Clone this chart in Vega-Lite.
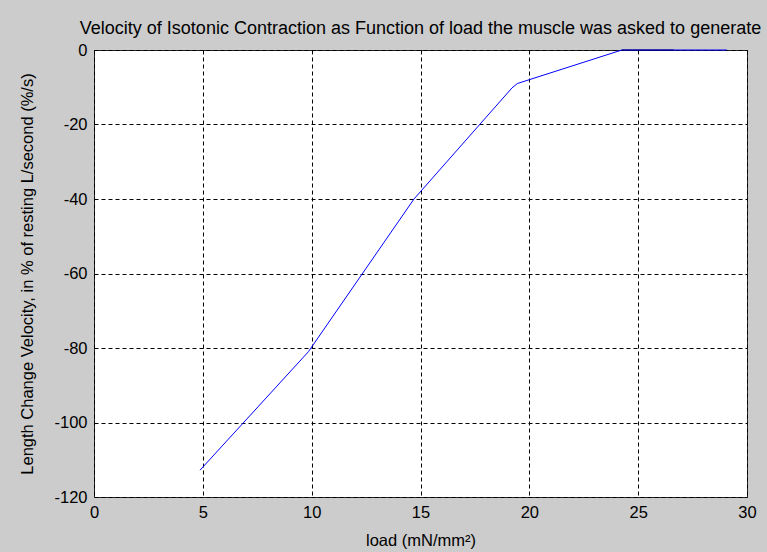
{
  "$schema": "https://vega.github.io/schema/vega-lite/v6.json",
  "width": 653,
  "height": 447,
  "autosize": {"type": "none"},
  "padding": {"left": 94, "top": 50, "right": 20, "bottom": 55},
  "background": "#cccccc",
  "title": {
    "text": "Velocity of Isotonic Contraction as Function of load the muscle was asked to generate",
    "font": "Liberation Sans Narrow, Arial Narrow, Liberation Sans",
    "fontSize": 18,
    "fontWeight": "normal",
    "color": "#000000",
    "anchor": "middle",
    "offset": 4
  },
  "config": {
    "view": {"fill": "#ffffff", "stroke": "#262626", "strokeWidth": 1},
    "axis": {
      "labelFont": "Liberation Sans Narrow, Arial Narrow, Liberation Sans",
      "labelFontSize": 16.5,
      "labelColor": "#000000",
      "titleFont": "Liberation Sans Narrow, Arial Narrow, Liberation Sans",
      "titleFontSize": 16.5,
      "titleFontWeight": "normal",
      "titleColor": "#000000",
      "domain": false,
      "ticks": false,
      "grid": true,
      "gridColor": "#000000",
      "gridOpacity": 1,
      "gridDash": [4, 3],
      "gridWidth": 1,
      "labelFlush": false,
      "labelOverlap": false,
      "labelExpr": "'' + datum.value"
    }
  },
  "data": {
    "values": [
      {"load": 4.87, "velocity": -112.8, "series": "main"},
      {"load": 9.85, "velocity": -81.0, "series": "main"},
      {"load": 14.7, "velocity": -40.0, "series": "main"},
      {"load": 19.2, "velocity": -10.2, "series": "main"},
      {"load": 19.45, "velocity": -9.0, "series": "main"},
      {"load": 24.25, "velocity": 0.0, "series": "main"},
      {"load": 29.08, "velocity": 0.0, "series": "main"},
      {"load": 24.25, "velocity": 0.0, "series": "overlap"},
      {"load": 26.64, "velocity": 0.0, "series": "overlap"}
    ]
  },
  "mark": {"type": "line", "strokeWidth": 1, "clip": false},
  "encoding": {
    "x": {
      "field": "load",
      "type": "quantitative",
      "scale": {"domain": [0, 30], "nice": false, "zero": false},
      "axis": {"values": [0, 5, 10, 15, 20, 25, 30], "title": "load (mN/mm²)", "labelPadding": 7, "titlePadding": 12}
    },
    "y": {
      "field": "velocity",
      "type": "quantitative",
      "scale": {"domain": [-120, 0], "nice": false, "zero": false},
      "axis": {"values": [-120, -100, -80, -60, -40, -20, 0], "title": "Length Change Velocity, in % of resting L/second (%/s)", "labelPadding": 7, "titlePadding": 18}
    },
    "color": {
      "field": "series",
      "type": "nominal",
      "scale": {"domain": ["main", "overlap"], "range": ["#0000ff", "#00007f"]},
      "legend": null
    },
    "strokeWidth": {
      "field": "series",
      "type": "nominal",
      "scale": {"domain": ["main", "overlap"], "range": [1, 2]},
      "legend": null
    }
  }
}
